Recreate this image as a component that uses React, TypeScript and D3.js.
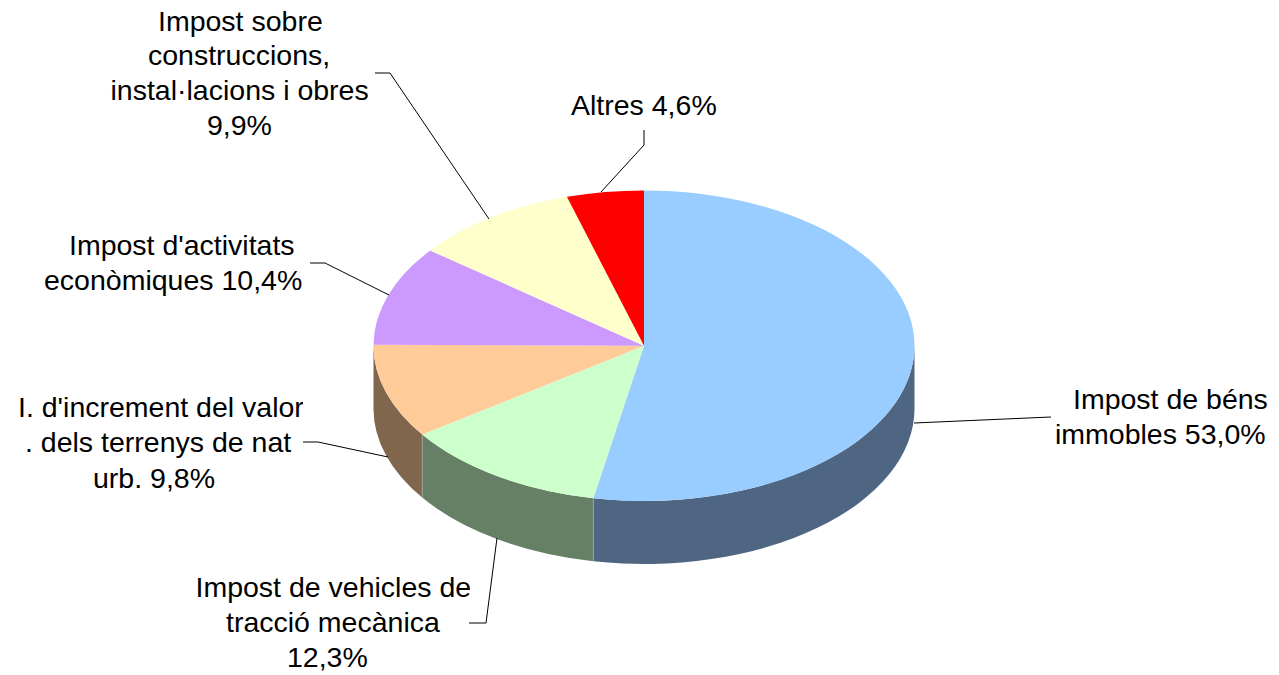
import React from "react";
import * as d3 from "d3";

const categories = [
  "Impost de béns immobles",
  "Impost de vehicles de tracció mecànica",
  "I. d'increment del valor dels terrenys de nat urb.",
  "Impost d'activitats econòmiques",
  "Impost sobre construccions, instal·lacions i obres",
  "Altres",
];
const values = [53.0, 12.3, 9.8, 10.4, 9.9, 4.6];
const topColors = ["#99CCFF", "#CCFFCC", "#FFCC99", "#CC99FF", "#FFFFCC", "#FF0000"];
const sideColors = ["#4F6682", "#668066", "#80664D", "#664D80", "#808066", "#800000"];

const labelLines = [
  ["Impost de béns", "immobles 53,0%"],
  ["Impost de vehicles de", "tracció mecànica", "12,3%"],
  ["I. d'increment del valor", ". dels terrenys de nat", "urb. 9,8%"],
  ["Impost d'activitats", "econòmiques 10,4%"],
  ["Impost sobre", "construccions,", "instal·lacions i obres", "9,9%"],
  ["Altres 4,6%"],
];
const labelLeft = [
  [1073, 1055],
  [195.5, 226, 287],
  [18, 25, 93],
  [69, 44],
  [158, 148, 110.5, 207],
  [571],
];
const labelBase = [
  [409, 444],
  [597, 632, 667],
  [417, 452, 488],
  [255, 290],
  [31, 65, 100, 135],
  [115],
];
const labelClip = [null, 470, 303, null, null, null];
const leaders = [
  [[914, 423], [1051, 417]],
  [[497, 538], [486, 623], [469, 623]],
  [[388, 457], [318, 442], [303, 442]],
  [[389, 295], [325, 263], [310, 263]],
  [[489, 219], [390, 73], [375, 73]],
  [[601, 192], [644, 145], [644, 130]],
];

const CX = 644, CY = 345.7, RX = 270.5, RY = 155.3, DEPTH = 63;
const xOf = d3.scaleLinear().domain([-1, 1]).range([CX - RX, CX + RX]);
const yOf = d3.scaleLinear().domain([-1, 1]).range([CY - RY, CY + RY]);
const px = (a: number) => xOf(Math.sin(a));
const py = (a: number) => yOf(-Math.cos(a));

const arcs = d3.pie<number>().sort(null).value((d) => d)(values);
const line = d3.line();

function topPath(a0: number, a1: number) {
  const large = a1 - a0 > Math.PI ? 1 : 0;
  return `M${CX},${CY}L${px(a0)},${py(a0)}A${RX},${RY} 0 ${large} 1 ${px(a1)},${py(a1)}Z`;
}
function sidePath(a0: number, a1: number) {
  const s = Math.max(a0, Math.PI / 2);
  const e = Math.min(a1, (3 * Math.PI) / 2);
  if (e <= s) return null;
  return `M${px(s)},${py(s)}A${RX},${RY} 0 0 1 ${px(e)},${py(e)}L${px(e)},${py(e) + DEPTH}A${RX},${RY} 0 0 0 ${px(s)},${py(s) + DEPTH}Z`;
}

export default function App() {
  return (
    <svg
      width={1279}
      height={675}
      style={{ position: "absolute", left: 0, top: 0, display: "block", background: "#fff" }}
    >
      <defs>
        {labelClip.map((c, i) =>
          c == null ? null : (
            <clipPath id={`clip${i}`} key={i}>
              <rect x={0} y={0} width={c} height={675} />
            </clipPath>
          )
        )}
      </defs>
      {arcs.map((a, i) => {
        const d = sidePath(a.startAngle, a.endAngle);
        return d ? <path key={i} d={d} fill={sideColors[i]} /> : null;
      })}
      {arcs.map((a, i) =>
        a.endAngle > Math.PI / 2 && a.endAngle < (3 * Math.PI) / 2 ? (
          <path
            key={i}
            d={line([[px(a.endAngle), py(a.endAngle)], [px(a.endAngle), py(a.endAngle) + DEPTH]]) as string}
            stroke="#B0B0B0"
            strokeWidth={0.6}
            fill="none"
          />
        ) : null
      )}
      {arcs.map((a, i) => (
        <path key={i} d={topPath(a.startAngle, a.endAngle)} fill={topColors[i]} />
      ))}
      {leaders.map((pts, i) => (
        <path key={i} d={line(pts as [number, number][]) as string} fill="none" stroke="#000" strokeWidth={1} />
      ))}
      {labelLines.map((lines, i) => (
        <g key={i} clipPath={labelClip[i] == null ? undefined : `url(#clip${i})`}>
          {lines.map((t, j) => (
            <text
              key={j}
              x={labelLeft[i][j]}
              y={labelBase[i][j]}
              fontFamily="'Liberation Sans', Arial, sans-serif"
              fontSize={28.5}
              fill="#000"
            >
              {t}
            </text>
          ))}
        </g>
      ))}
    </svg>
  );
}
